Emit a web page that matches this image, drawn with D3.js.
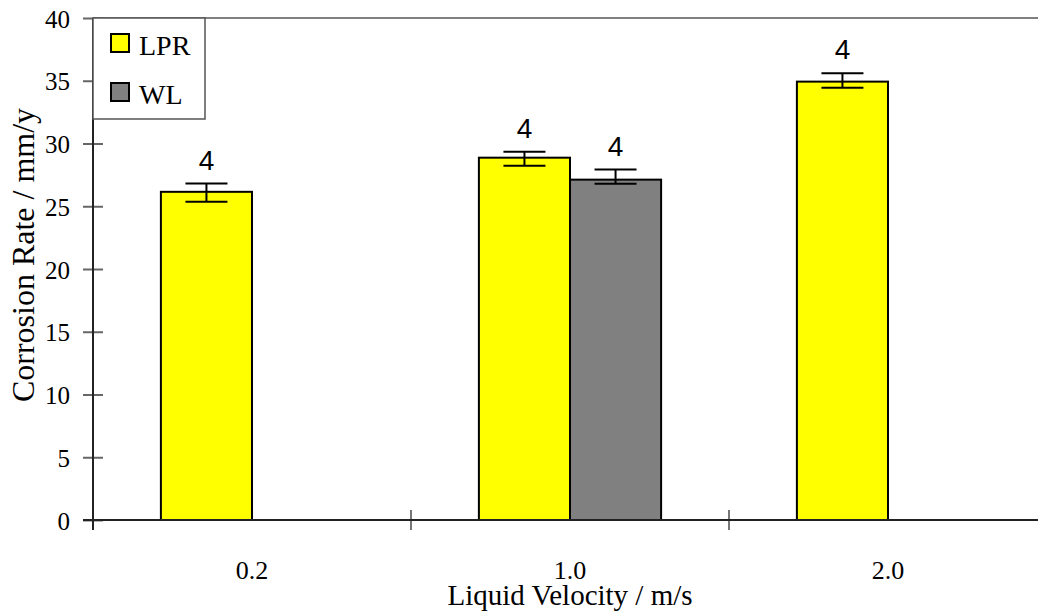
<!DOCTYPE html>
<html>
<head>
<meta charset="utf-8">
<script src="https://cdn.jsdelivr.net/npm/d3@7/dist/d3.min.js"></script>
<style>
  html, body { margin: 0; padding: 0; background: #fff; }
  svg { display: block; }
</style>
</head>
<body>
<svg id="chart" width="1038" height="613"></svg>
<script>
// ---- data ----
const categories = ["0.2", "1.0", "2.0"];
const seriesNames = ["LPR", "WL"];
const lprValues = [26.15, 28.87, 34.93];
const wlValues = [null, 27.12, null];
const lprErrUp = [0.66, 0.48, 0.67];
const lprErrDown = [0.8, 0.64, 0.48];
const wlErrUp = [null, 0.8, null];
const wlErrDown = [null, 0.32, null];
const lprLabels = ["4", "4", "4"];
const wlLabels = [null, "4", null];
const yTicks = [0, 5, 10, 15, 20, 25, 30, 35, 40];
const seriesColors = ["#ffff00", "#808080"];
const xTitle = "Liquid Velocity / m/s";
const yTitle = "Corrosion Rate / mm/y";

const SERIF = '"Liberation Serif", "Times New Roman", "DejaVu Serif", serif';
const SANS = '"Liberation Sans", Arial, sans-serif';

// ---- layout ----
const pLeft = 93, pRight = 1047, pTop = 18, pBottom = 520;
const svg = d3.select("#chart");

const x = d3.scaleBand().domain(categories).range([pLeft, pRight]).paddingInner(0).paddingOuter(0);
const groupWidth = x.bandwidth() * 0.573;
const xs = d3.scaleBand().domain(seriesNames).range([0, groupWidth]).padding(0);
const y = d3.scaleLinear().domain([0, 40]).range([pBottom, pTop]);

const rows = [];
categories.forEach((c, i) => {
  rows.push({cat: c, s: "LPR", v: lprValues[i], up: lprErrUp[i], dn: lprErrDown[i], lab: lprLabels[i], col: seriesColors[0]});
  rows.push({cat: c, s: "WL", v: wlValues[i], up: wlErrUp[i], dn: wlErrDown[i], lab: wlLabels[i], col: seriesColors[1]});
});
const bars = rows.filter(d => d.v != null);
const barX = d => x(d.cat) + (x.bandwidth() - groupWidth) / 2 + xs(d.s);

// fit a text's font size so its width matches a target width
function fitText(sel, targetW, maxSize) {
  sel.style("font-size", "100px");
  const w = sel.node().getComputedTextLength();
  const size = Math.min(maxSize, 100 * targetW / w);
  sel.style("font-size", size + "px");
  return size;
}

svg.append("line").attr("x1", pLeft).attr("x2", pRight).attr("y1", pTop).attr("y2", pTop)
  .attr("stroke", "#808080").attr("stroke-width", 2);

const yAxis = svg.append("g").attr("transform", `translate(${pLeft},0)`)
  .call(d3.axisLeft(y).tickValues(yTicks).tickSize(10).tickPadding(13).tickFormat(d3.format("d")));
yAxis.select(".domain").remove();
yAxis.selectAll(".tick line").attr("x1", -10).attr("x2", 10).attr("stroke", "#666").attr("stroke-width", 2);
yAxis.selectAll(".tick text").style("font-family", SERIF).style("font-size", "25px").attr("fill", "#000").attr("dy", "0.36em");
svg.append("line").attr("x1", pLeft).attr("x2", pLeft).attr("y1", pTop).attr("y2", pBottom + 10)
  .attr("stroke", "#222").attr("stroke-width", 2);

const xAxis = svg.append("g").attr("transform", `translate(0,${pBottom})`)
  .call(d3.axisBottom(x).tickSize(0).tickPadding(0));
xAxis.select(".domain").remove();
xAxis.selectAll(".tick text").style("font-family", SERIF).style("font-size", "26px").attr("fill", "#000").attr("y", 59).attr("dy", 0);
const boundaries = categories.slice(1).map(c => x(c));
svg.append("g").selectAll("line").data(boundaries).join("line")
  .attr("x1", d => d).attr("x2", d => d).attr("y1", pBottom - 10).attr("y2", pBottom + 10)
  .attr("stroke", "#777").attr("stroke-width", 2);

svg.append("g").selectAll("rect").data(bars).join("rect")
  .attr("x", barX).attr("width", xs.bandwidth())
  .attr("y", d => y(d.v)).attr("height", d => y(0) - y(d.v))
  .attr("fill", d => d.col).attr("stroke", "#000").attr("stroke-width", 2);

svg.append("line").attr("x1", pLeft - 10).attr("x2", pRight).attr("y1", pBottom).attr("y2", pBottom)
  .attr("stroke", "#222").attr("stroke-width", 2);

const eb = svg.append("g").selectAll("g").data(bars).join("g")
  .attr("transform", d => `translate(${barX(d) + xs.bandwidth() / 2},0)`);
eb.append("line").attr("x1", 0).attr("x2", 0)
  .attr("y1", d => y(d.v + d.up)).attr("y2", d => y(d.v - d.dn))
  .attr("stroke", "#000").attr("stroke-width", 2);
eb.append("line").attr("x1", -21).attr("x2", 21)
  .attr("y1", d => y(d.v + d.up)).attr("y2", d => y(d.v + d.up))
  .attr("stroke", "#000").attr("stroke-width", 2);
eb.append("line").attr("x1", -21).attr("x2", 21)
  .attr("y1", d => y(d.v - d.dn)).attr("y2", d => y(d.v - d.dn))
  .attr("stroke", "#000").attr("stroke-width", 2);
eb.filter(d => d.lab != null).append("text")
  .style("font-family", SANS).style("font-size", "28px").attr("fill", "#000").attr("text-anchor", "middle")
  .attr("x", 0).attr("y", d => y(d.v + d.up) - 14).text(d => d.lab);

const xt = svg.append("text").style("font-family", SERIF).attr("fill", "#000").attr("text-anchor", "middle")
  .attr("x", (pLeft + pRight) / 2).attr("y", 605).text(xTitle);
fitText(xt, 249, 29);
const yt = svg.append("text").style("font-family", SERIF).attr("fill", "#000").attr("text-anchor", "middle")
  .attr("transform", "translate(34,255) rotate(-90)").text(yTitle);
fitText(yt, 313, 32);

const lg = svg.append("g");
lg.append("rect").attr("x", pLeft).attr("y", pTop).attr("width", 112).attr("height", 101)
  .attr("fill", "#fff").attr("stroke", "#555").attr("stroke-width", 1.5);
const li = lg.selectAll("g").data(seriesNames).join("g")
  .attr("transform", (d, i) => `translate(0,${i * 49})`);
li.append("rect").attr("x", 111).attr("y", 34).attr("width", 18).attr("height", 18)
  .attr("fill", (d, i) => seriesColors[i]).attr("stroke", "#000").attr("stroke-width", 2);
li.append("text").style("font-family", SERIF).style("font-size", "28px").attr("fill", "#000")
  .attr("x", 139).attr("y", 55).text(d => d);
</script>
</body>
</html>
